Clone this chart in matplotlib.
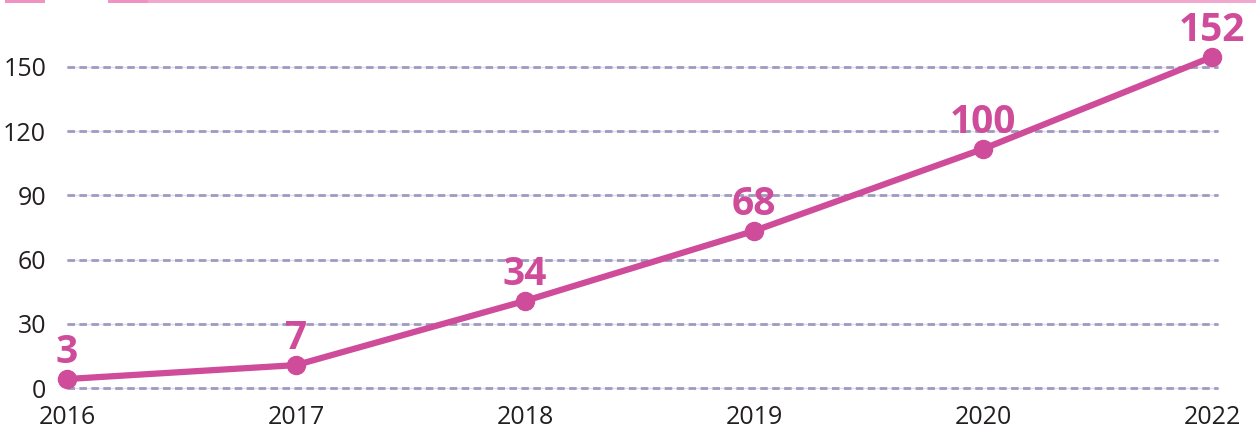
import matplotlib
matplotlib.use("Agg")
import matplotlib.pyplot as plt
from matplotlib.patches import Rectangle

years = ["2016", "2017", "2018", "2019", "2020", "2022"]
# heights of the points as drawn, and the numbers printed above them
values = [4.2, 10.7, 40.7, 73.4, 111.7, 154.7]
labels = ["3", "7", "34", "68", "100", "152"]
yticks = [0, 30, 60, 90, 120, 150]

LINE = "#CF4C9A"
GRID_DASH = "#9F9AC0"
GRID_BASE = "#E0DEEE"
BAND = "#EE93C2"

plt.rcParams['font.family'] = ['Open Sans', 'DejaVu Sans']

fig = plt.figure(figsize=(12.56, 4.33), dpi=100)
ax = fig.add_axes([67 / 1256, 1 - 388 / 433, (1218 - 67) / 1256, (388 - 67) / 433])

xs = list(range(len(years)))
ax.set_xlim(0, 1151 / 229)
ax.set_ylim(0, 150)

for t in yticks:
    ax.axhline(t, color=GRID_BASE, lw=1.0, zorder=1, clip_on=False)
    ax.axhline(t, color=GRID_DASH, lw=2.0, ls=(0, (2.7, 1.6)), zorder=1, clip_on=False)

ax.plot(xs, values, color=LINE, lw=4.5, marker="o", markersize=13,
        solid_capstyle="round", clip_on=False, zorder=3)

for x, v, lab in zip(xs, values, labels):
    ax.annotate(lab, (x, v), xytext=(0, 5), textcoords="offset points",
                ha="center", va="bottom", fontsize=28, fontweight="bold",
                color=LINE, annotation_clip=False, zorder=4)

ax.set_xticks(xs)
ax.set_xticklabels(years)
ax.set_yticks(yticks)
ax.tick_params(axis="both", length=0, labelsize=18, colors="#231F20")
ax.tick_params(axis="y", pad=15)
ax.tick_params(axis="x", pad=12)
for s in ax.spines.values():
    s.set_visible(False)

# pink header strip cut off at the top edge
fig.patches.append(Rectangle((142 / 1256, 1 - 3 / 433), 1114 / 1256, 3 / 433,
                             transform=fig.transFigure, color=BAND, alpha=0.8, lw=0))
fig.patches.append(Rectangle((5 / 1256, 1 - 2.5 / 433), 40 / 1256, 2.5 / 433,
                             transform=fig.transFigure, color=BAND, lw=0))
fig.patches.append(Rectangle((108 / 1256, 1 - 2.5 / 433), 40 / 1256, 2.5 / 433,
                             transform=fig.transFigure, color=BAND, lw=0))

fig.savefig("out.png", dpi=100)
